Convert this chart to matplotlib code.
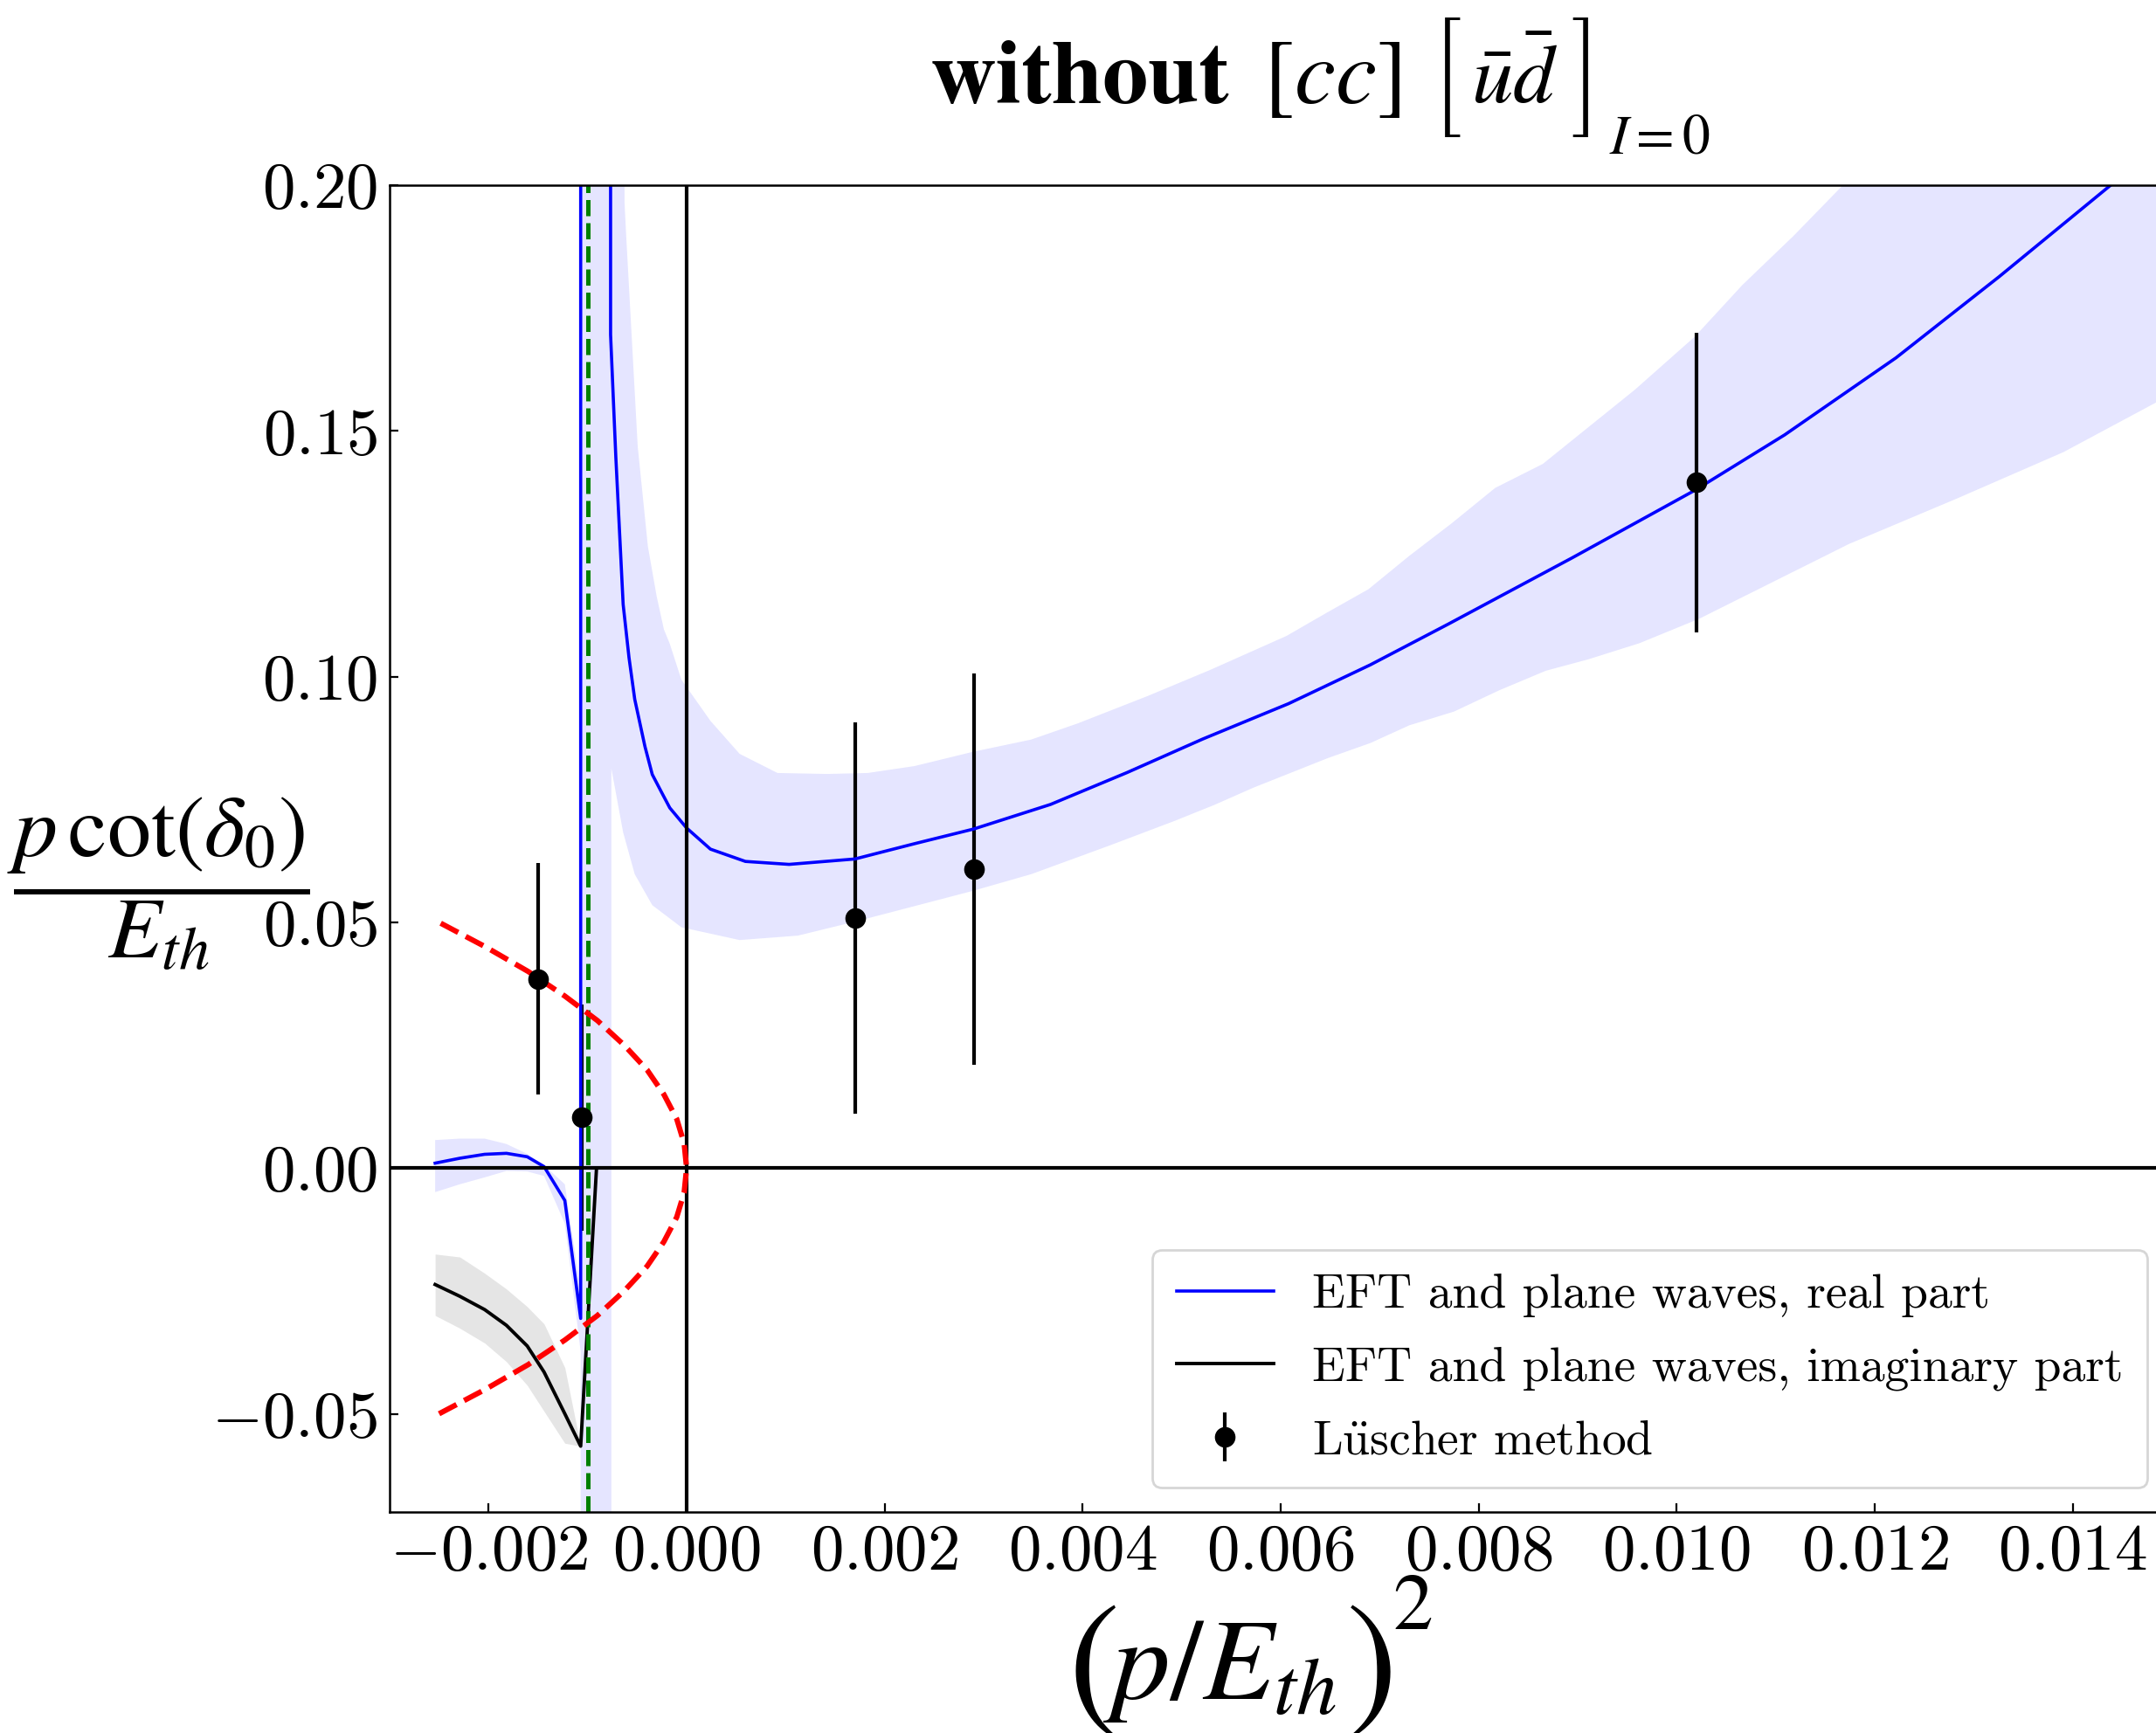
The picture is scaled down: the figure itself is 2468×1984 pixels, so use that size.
import numpy as np
import matplotlib
matplotlib.use("Agg")
import matplotlib.pyplot as plt
from matplotlib.ticker import MultipleLocator
from matplotlib.textpath import TextPath
from matplotlib.font_manager import FontProperties

plt.rcParams['font.family'] = 'serif'
plt.rcParams['font.serif'] = ['cmr10']
plt.rcParams['mathtext.fontset'] = 'cm'
plt.rcParams['axes.formatter.use_mathtext'] = True

# EFT, real part (curve through the pole near -0.001)
re_x = [-0.00254, -0.00229, -0.00204, -0.00182, -0.00161, -0.00144, -0.00123, -0.00107,
        -0.00107, -0.000768, -0.000768, -0.000715, -0.000641, -0.000582, -0.000524, -0.000421,
        -0.000347, -0.000259, -0.00017, 0.0, 0.000241, 0.000594, 0.001035, 0.0017, 0.0023,
        0.0029, 0.003676, 0.00445, 0.005212, 0.006079, 0.006905, 0.007693, 0.008946, 0.01019,
        0.01109, 0.012216, 0.013257, 0.014382, 0.015]
re_y = [0.0010, 0.0020, 0.0028, 0.0030, 0.0023, 0.0003, -0.0066, -0.0306,
        1.0, 1.0, 0.1696, 0.1447, 0.1147, 0.1039, 0.0954, 0.0858,
        0.0801, 0.0767, 0.0733, 0.0692, 0.0649, 0.0624, 0.0618, 0.0629, 0.0660,
        0.0690, 0.0740, 0.0805, 0.0873, 0.0945, 0.1024, 0.1107, 0.1242, 0.1380,
        0.1492, 0.1649, 0.1814, 0.2, 0.209]

# uncertainty band of the real part (upper and lower edges)
re_hi_x = [-0.00254, -0.00229, -0.00204, -0.00182, -0.00161, -0.00144, -0.00123, -0.00107,
           -0.00107, -0.00064, -0.000627, -0.000611, -0.000494, -0.000391, -0.000302, -0.000229,
           -0.00017, -0.000053, 0.000241, 0.000535, 0.000918, 0.001418, 0.00183, 0.0023,
           0.00289, 0.00348, 0.003952, 0.004661, 0.005291, 0.00606, 0.006473, 0.006887,
           0.0073, 0.007733, 0.008166, 0.008648, 0.009578, 0.010183, 0.010663, 0.01118,
           0.011678, 0.015]
re_hi_y = [0.0057, 0.0060, 0.0060, 0.0049, 0.0029, 0.0006, -0.0033, -0.025,
           1.0, 1.0, 0.1965, 0.19, 0.1469, 0.1265, 0.1163, 0.1096,
           0.1067, 0.0994, 0.0910, 0.0843, 0.0804, 0.0802, 0.0804, 0.0818,
           0.0847, 0.0872, 0.0905, 0.0961, 0.1014, 0.1083, 0.1131, 0.1178,
           0.1246, 0.1313, 0.1384, 0.1433, 0.1584, 0.1692, 0.1797, 0.1897,
           0.2, 0.26]
re_lo_x = [-0.00254, -0.00229, -0.00204, -0.00182, -0.00161, -0.00144, -0.00123, -0.00107,
           -0.00107, -0.00076, -0.00076, -0.000641, -0.000524, -0.000347, -0.000053, 0.000535,
           0.001124, 0.001712, 0.00289, 0.00348, 0.004267, 0.004936, 0.00533, 0.005724,
           0.006473, 0.006907, 0.0073, 0.007752, 0.008205, 0.008678, 0.009103, 0.009623,
           0.010229, 0.01174, 0.012825, 0.013907, 0.015]
re_lo_y = [-0.0049, -0.0033, -0.0019, -0.0006, -0.0007, -0.0016, -0.0113, -0.0374,
           -1.0, -1.0, 0.0813, 0.0683, 0.0598, 0.0535, 0.0490, 0.0464,
           0.0473, 0.0502, 0.0564, 0.0598, 0.0656, 0.0707, 0.0739, 0.0774,
           0.0834, 0.0865, 0.0901, 0.0929, 0.0972, 0.1012, 0.1035, 0.1068,
           0.1118, 0.1270, 0.1362, 0.1457, 0.1575]

# EFT, imaginary part
im_x = [-0.00254, -0.00229, -0.00204, -0.00182, -0.00161, -0.00144, -0.00123, -0.00107, -0.00091]
im_y = [-0.0237, -0.0261, -0.0288, -0.0320, -0.0362, -0.0415, -0.0500, -0.0566, 0.0]
im_hi = [-0.0175, -0.0181, -0.0214, -0.0246, -0.0282, -0.0317, -0.0406, -0.0566]
im_lo = [-0.0300, -0.0326, -0.0356, -0.0394, -0.0442, -0.0495, -0.0560, -0.0566]

# Luescher points
lu_x = [-0.0015, -0.00106, 0.0017, 0.0029, 0.0102]
lu_y = [0.0385, 0.0103, 0.0509, 0.0609, 0.1395]
lu_err = [0.0235, 0.023, 0.0398, 0.0398, 0.0305]

# red dashed bound
bound_y = [-0.05, -0.045, -0.04, -0.035, -0.03, -0.025, -0.02, -0.015, -0.01, -0.005, 0.0,
           0.005, 0.01, 0.015, 0.02, 0.025, 0.03, 0.035, 0.04, 0.045, 0.05]
bound_x = [-0.0025, -0.00203, -0.0016, -0.00123, -0.0009, -0.00063, -0.0004, -0.00023, -0.0001,
           -0.000025, 0.0, -0.000025, -0.0001, -0.00023, -0.0004, -0.00063, -0.0009, -0.00123,
           -0.0016, -0.00203, -0.0025]

x_pole = -0.001

W, H = 2468, 1984
DPI = 200
fig = plt.figure(figsize=(W / DPI, H / DPI), dpi=DPI)
ax = fig.add_axes([0.1807, 0.1275, 0.8266, 0.7656])

# bands
ax.fill(np.concatenate([re_hi_x, re_lo_x[::-1]]), np.concatenate([re_hi_y, re_lo_y[::-1]]),
        color='blue', alpha=0.1, lw=0)
ax.fill_between(im_x[:-1], im_lo, im_hi, color='gray', alpha=0.2, lw=0)

ax.errorbar(lu_x, lu_y, yerr=lu_err, fmt='o', color='black', ms=7.5, elinewidth=1.5,
            capsize=0, label=r'L$\ddot{\mathrm{u}}$scher method')
ax.plot(re_x, re_y, color='blue', lw=1.3, label='EFT and plane waves, real part')
ax.plot(im_x, im_y, color='black', lw=1.4, label='EFT and plane waves, imaginary part')
ax.axhline(0, color='black', lw=1.5)
ax.axvline(0, color='black', lw=1.5)
ax.axvline(x_pole, color='green', ls='--', lw=1.8)
ax.plot(bound_x, bound_y, color='red', ls='--', lw=2.2)

ax.set_xlim(-0.003, 0.015)
ax.set_ylim(-0.07, 0.2)
ax.xaxis.set_major_locator(MultipleLocator(0.002))
ax.yaxis.set_major_locator(MultipleLocator(0.05))
ax.tick_params(direction='in', length=3.6, width=0.8, labelsize=27, pad=5)
for s in ax.spines.values():
    s.set_linewidth(0.9)

ax.legend(loc='lower right', fontsize=20, labelspacing=0.6, borderpad=0.5)

rend = fig.canvas.get_renderer()


def put(x, y, s, size):
    # x, y in pixels from the top-left corner, y is the baseline
    return fig.text(x / W, 1 - y / H, s, fontsize=size, ha='left', va='baseline',
                    math_fontfamily='stix')


def put_width(x, y, s, width):
    # same as put, font size chosen so the piece is `width` pixels wide
    t = put(x, y, s, 40)
    t.set_fontsize(40 * width / t.get_window_extent(rend).width)
    return t


def put_bracket(x, top, bottom, s):
    # tall thin bracket from the STIX size fonts, ink spanning top..bottom pixels
    fp = FontProperties(family='STIXSizeTwoSym')
    ext = TextPath((0, 0), s, size=1, prop=fp).get_extents()
    size = (bottom - top) / ((ext.y1 - ext.y0) * DPI / 72)
    scale = size * DPI / 72
    base = bottom + ext.y0 * scale
    return fig.text((x - ext.x0 * scale) / W, 1 - base / H, s, fontsize=size,
                    ha='left', va='baseline', fontproperties=fp.copy())


# title, built from pieces so the brackets can be taller
put_width(1064, 118, r'$\mathbf{without}$', 344)
put_width(1446, 118, r'$[cc]$', 157)
b1 = put_bracket(1654, 20, 157, '[')
put_width(1684, 118, r'$\bar{u}\bar{d}$', 99)
b2 = put_bracket(1800, 20, 157, ']')
put_width(1842, 175, r'$I{=}0$', 115)
for b in (b1, b2):
    b.set_fontsize(b.get_fontsize())

# y label
fig.text(0.0733, 0.49, r'$\dfrac{p\,\cot(\delta_0)}{E_{th}}$', ha='center', va='center',
         fontsize=36, math_fontfamily='stix')

# x label
put(1222, 1958, r'$($', 64)
put(1262, 1945, r'$p/E_{th}$', 48)
put(1540, 1958, r'$)$', 64)
put(1594, 1865, r'$2$', 33)

fig.savefig('out.png', dpi=DPI)
